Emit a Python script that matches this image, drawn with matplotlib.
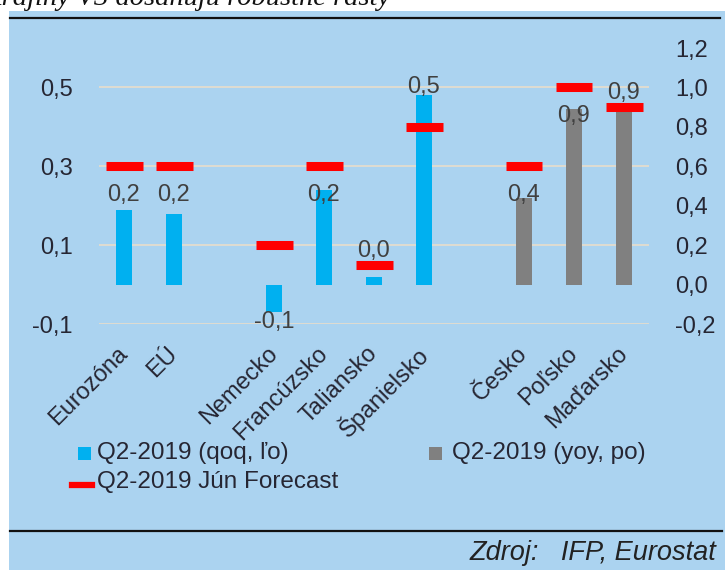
import matplotlib
matplotlib.use("Agg")
import matplotlib.pyplot as plt
from matplotlib.patches import Rectangle
from matplotlib.lines import Line2D

# data
countries_qoq = ['Eurozóna', 'EÚ', 'Nemecko', 'Francúzsko', 'Taliansko', 'Španielsko']
qoq = [0.19, 0.18, -0.07, 0.24, 0.02, 0.48]
forecast_qoq = [0.3, 0.3, 0.1, 0.3, 0.05, 0.4]

countries_yoy = ['Česko', 'Poľsko', 'Maďarsko']
yoy = [0.44, 0.89, 0.88]
forecast_yoy = [0.6, 1.0, 0.9]

left_ticks = [-0.1, 0.1, 0.3, 0.5]
right_ticks = [-0.2, 0.0, 0.2, 0.4, 0.6, 0.8, 1.0, 1.2]

title = 'krajiny V3 dosahujú robustné rasty'
legend_labels = ['Q2-2019 (qoq, ľo)', 'Q2-2019 (yoy, po)', 'Q2-2019 Jún Forecast']
source = 'Zdroj:   IFP, Eurostat'

BG = '#ABD3F0'
BLUE = '#00B0F0'
GRAY = '#808080'
RED = '#FF0000'
GRID = '#E8DDCB'
TXT = '#262633'
LBL = '#404040'

W, H = 725, 570
plt.rcParams['font.family'] = ['Liberation Sans', 'DejaVu Sans']


def fx(px):
    return px / W


def fy(py):
    return 1 - py / H


def fmt(v):
    return f'{v:.1f}'.replace('.', ',')


fig = plt.figure(figsize=(W / 100, H / 100), dpi=100)
fig.patch.set_facecolor('white')
fig.add_artist(Rectangle((fx(9), 0), 1 - fx(9), fy(11), transform=fig.transFigure,
                         facecolor=BG, edgecolor='none', zorder=0))
fig.add_artist(Line2D([fx(10), fx(720)], [fy(18), fy(18)], color='#111111', lw=1.6))
fig.add_artist(Line2D([fx(10), fx(722)], [fy(531), fy(531)], color='#111111', lw=1.6))
fig.text(fx(390), fy(5), title, ha='right', va='baseline', fontsize=20.5,
         family=['Liberation Serif', 'DejaVu Serif'], style='italic', color='#111111')
fig.text(fx(716), fy(553), source, ha='right', va='center', fontsize=19.5,
         style='italic', color='#222222')

ax = fig.add_axes([fx(99), fy(324), fx(649) - fx(99), fy(48) - fy(324)])
ax.set_facecolor('none')
ax2 = ax.twinx()

slots = countries_qoq[:2] + [''] + countries_qoq[2:] + [''] + countries_yoy
x_qoq = [slots.index(c) for c in countries_qoq]
x_yoy = [slots.index(c) for c in countries_yoy]

ax.set_ylim(-0.1, 0.6)
ax2.set_ylim(-0.2, 1.2)
ax.set_xlim(-0.5, len(slots) - 0.5)

for y in left_ticks:
    ax.axhline(y, color=GRID, lw=1.2, zorder=0)

ax.bar(x_qoq, qoq, width=0.32, color=BLUE, zorder=2)
ax2.bar(x_yoy, yoy, width=0.32, color=GRAY, zorder=2)
ax.hlines(forecast_qoq, [x - 0.37 for x in x_qoq], [x + 0.37 for x in x_qoq],
          colors=RED, lw=6.5, zorder=3)
ax2.hlines(forecast_yoy, [x - 0.37 for x in x_yoy], [x + 0.37 for x in x_yoy],
           colors=RED, lw=6.5, zorder=3)

ax_h = (fy(48) - fy(324)) * H


def add_labels(a, xs, vals, fcs):
    lo, hi = a.get_ylim()
    ppu = ax_h / (hi - lo)
    for x, v, f in zip(xs, vals, fcs):
        if v < 0:
            y, off = v, -10
        elif (f - v) * ppu > 20:
            y, off = f, -29
        else:
            if f > v:
                y, off = f, 5 + 9
            else:
                y, off = v, 8
        a.annotate(fmt(v), (x, y), xytext=(0, off * 0.72), textcoords='offset points',
                   ha='center', va='center', fontsize=17, color=LBL, zorder=4)


add_labels(ax, x_qoq, qoq, forecast_qoq)
add_labels(ax2, x_yoy, yoy, forecast_yoy)

ax.set_yticks(left_ticks)
ax.set_yticklabels([fmt(t) for t in left_ticks])
ax2.set_yticks(right_ticks)
ax2.set_yticklabels([fmt(t) for t in right_ticks])
ax.set_xticks(x_qoq + x_yoy)
ax.set_xticklabels(countries_qoq + countries_yoy, rotation=45, ha='right',
                   va='center', rotation_mode='anchor')

for a in (ax, ax2):
    for s in a.spines.values():
        s.set_visible(False)
    a.tick_params(length=0, labelsize=17, labelcolor=TXT)
ax.tick_params(axis='y', pad=19)
ax2.tick_params(axis='y', pad=19)
ax.tick_params(axis='x', pad=19)

# legend drawn by hand
fig.add_artist(Rectangle((fx(78), fy(460)), fx(13), fy(447) - fy(460), transform=fig.transFigure,
                         facecolor=BLUE, edgecolor='none'))
fig.text(fx(97), fy(453), legend_labels[0], ha='left', va='center', fontsize=17.5, color=TXT)
fig.add_artist(Rectangle((fx(429), fy(460)), fx(13), fy(447) - fy(460), transform=fig.transFigure,
                         facecolor=GRAY, edgecolor='none'))
fig.text(fx(452), fy(453), legend_labels[1], ha='left', va='center', fontsize=17.5, color=TXT)
fig.add_artist(Line2D([fx(72), fx(92)], [fy(485), fy(485)], color=RED, lw=4.5,
                      transform=fig.transFigure))
fig.text(fx(97), fy(482), legend_labels[2], ha='left', va='center', fontsize=17.5, color=TXT)

fig.savefig('out.png', dpi=100, facecolor=fig.get_facecolor())
